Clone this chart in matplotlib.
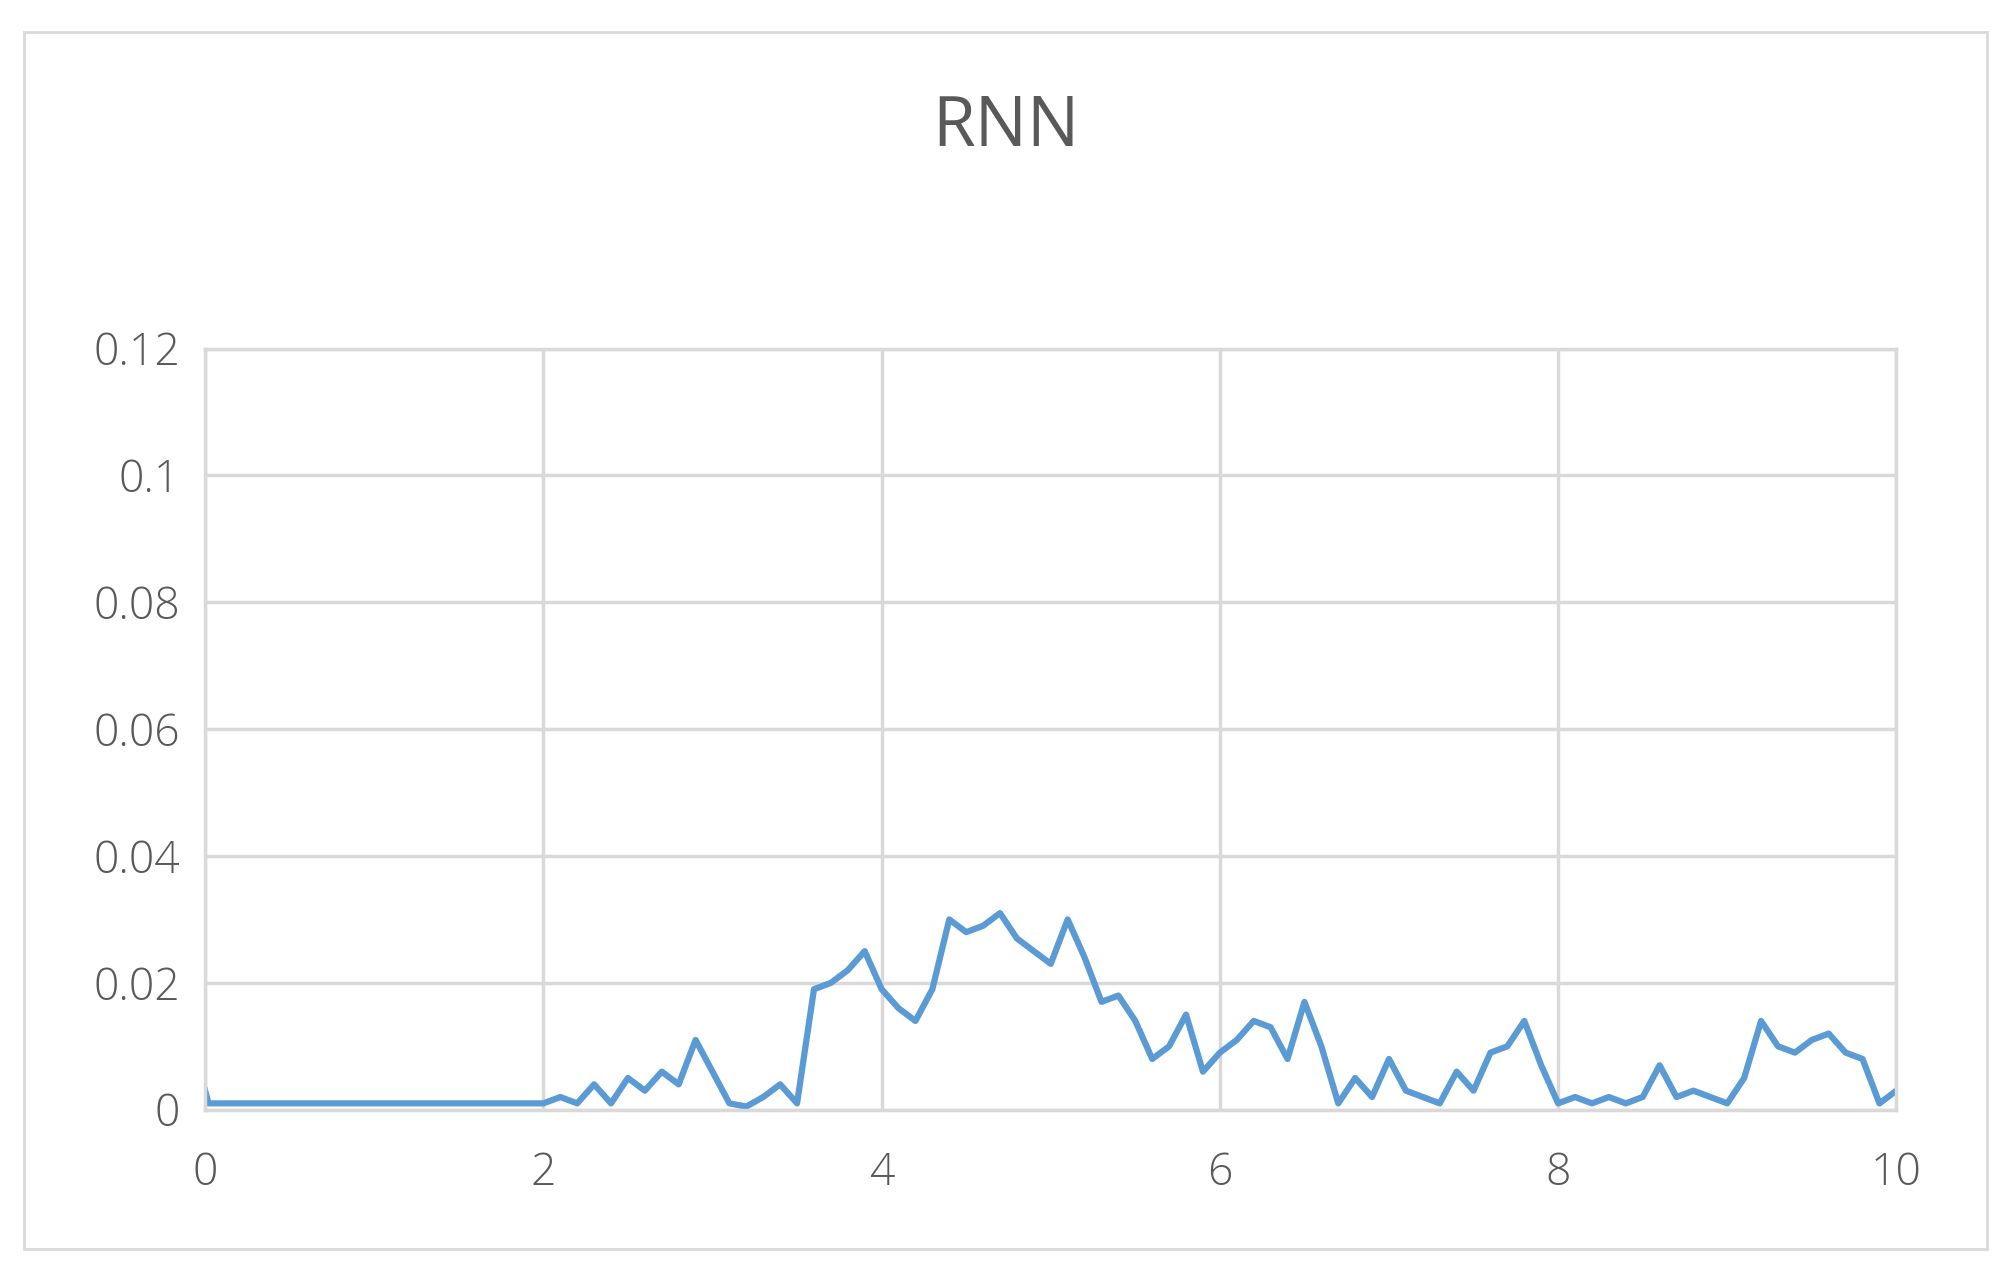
import numpy as np
import matplotlib.pyplot as plt
from matplotlib.patches import Rectangle

# values (y in units of 0.001)
x_flat = [0.0, 0.02, 0.5, 1.0, 1.5, 1.95]
y_flat = [3, 1, 1, 1, 1, 1]
x_main = [2.0, 2.1, 2.2, 2.3, 2.4, 2.5, 2.6, 2.7, 2.8, 2.9, 3.0, 3.1, 3.2, 3.3, 3.4, 3.5,
          3.6, 3.7, 3.8, 3.9, 4.0, 4.1, 4.2, 4.3, 4.4, 4.5, 4.6, 4.7, 4.8, 4.9, 5.0, 5.1,
          5.2, 5.3, 5.4, 5.5, 5.6, 5.7, 5.8, 5.9, 6.0, 6.1, 6.2, 6.3, 6.4, 6.5, 6.6, 6.7,
          6.8, 6.9, 7.0, 7.1, 7.2, 7.3, 7.4, 7.5, 7.6, 7.7, 7.8, 7.9, 8.0, 8.1, 8.2, 8.3,
          8.4, 8.5, 8.6, 8.7, 8.8, 8.9, 9.0, 9.1, 9.2, 9.3, 9.4, 9.5, 9.6, 9.7, 9.8, 9.9, 10.0]
y_main = [1, 2, 1, 4, 1, 5, 3, 6, 4, 11, 6, 1, 0.5, 2, 4, 1,
          19, 20, 22, 25, 19, 16, 14, 19, 30, 28, 29, 31, 27, 25, 23, 30,
          24, 17, 18, 14, 8, 10, 15, 6, 9, 11, 14, 13, 8, 17, 10, 1,
          5, 2, 8, 3, 2, 1, 6, 3, 9, 10, 14, 7, 1, 2, 1, 2,
          1, 2, 7, 2, 3, 2, 1, 5, 14, 10, 9, 11, 12, 9, 8, 1, 3]

xs = np.array(x_flat + x_main)
ys = np.array(y_flat + y_main) / 1000.0

plt.rcParams['font.family'] = ['Open Sans', 'DejaVu Sans']
fig = plt.figure(figsize=(20.11, 12.77), dpi=100)
fig.patches.append(Rectangle((0.012, 0.022), 0.976, 0.953, transform=fig.transFigure,
                             fill=False, edgecolor='#d9d9d9', linewidth=2))
ax = fig.add_axes([0.102, 0.131, 0.841, 0.596])
ax.plot(xs, ys, color='#5b9bd5', linewidth=4.5)
ax.set_xlim(0, 10)
ax.set_ylim(0, 0.12)
ax.set_xticks([0, 2, 4, 6, 8, 10])
ax.set_yticks([0, 0.02, 0.04, 0.06, 0.08, 0.1, 0.12])
ax.set_yticklabels(['0', '0.02', '0.04', '0.06', '0.08', '0.1', '0.12'])
ax.grid(True, color='#d9d9d9', linewidth=2.5)
for s in ax.spines.values():
    s.set_color('#d9d9d9')
    s.set_linewidth(2.5)
ax.tick_params(length=0, labelsize=32, colors='#595959')
ax.tick_params(axis='x', pad=30)
ax.tick_params(axis='y', pad=18)
for lbl in ax.get_xticklabels() + ax.get_yticklabels():
    lbl.set_fontweight('light')
fig.text(0.5, 0.90, 'RNN', ha='center', va='center', fontsize=50, color='#595959')
fig.savefig('out.png', dpi=100)
